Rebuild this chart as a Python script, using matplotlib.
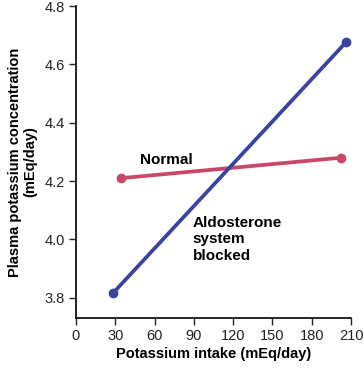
import matplotlib
matplotlib.use('Agg')
import matplotlib.pyplot as plt

plt.rcParams['font.family'] = ['Liberation Sans', 'DejaVu Sans']

# potassium intake (mEq/day) vs plasma potassium (mEq/day)
normal_x = [34, 202]
normal_y = [4.21, 4.28]
blocked_x = [28, 206]
blocked_y = [3.815, 4.675]

xticks = [0, 30, 60, 90, 120, 150, 180, 210]
yticks = [3.8, 4.0, 4.2, 4.4, 4.6, 4.8]

fig = plt.figure(figsize=(3.64, 3.68), dpi=100)
ax = fig.add_axes([76/364, 1 - 318/368, 275/364, 312/368])

ax.plot(normal_x, normal_y, color='#c9486a', lw=2.7, marker='o', ms=6,
        solid_capstyle='round', zorder=3)
ax.plot(blocked_x, blocked_y, color='#3a43a0', lw=2.7, marker='o', ms=6,
        solid_capstyle='round', zorder=3)

ax.set_xlim(0, 210)
ax.set_ylim(3.731, 4.8)
ax.set_xticks(xticks)
ax.set_xticklabels([str(t) for t in xticks])
ax.set_yticks(yticks)
ax.set_yticklabels(['%.1f' % t for t in yticks])
ax.tick_params(direction='out', length=5, width=1, labelsize=10.5,
               colors='#222222', pad=3)
for s in ['top', 'right']:
    ax.spines[s].set_visible(False)
for s in ['left', 'bottom']:
    ax.spines[s].set_linewidth(1.2)

ax.text(49, 4.273, 'Normal', fontsize=11, fontweight='bold', va='center', ha='left')
ax.text(89, 4.0, 'Aldosterone\nsystem\nblocked', fontsize=11, fontweight='bold',
        va='center', ha='left', linespacing=1.25)

ax.set_xlabel('Potassium intake (mEq/day)', fontsize=10.5, fontweight='bold', labelpad=3)
ax.set_ylabel('Plasma potassium concentration\n(mEq/day)', fontsize=10.5,
              fontweight='bold', labelpad=5, linespacing=1.1)

fig.savefig('out.png', dpi=100)
